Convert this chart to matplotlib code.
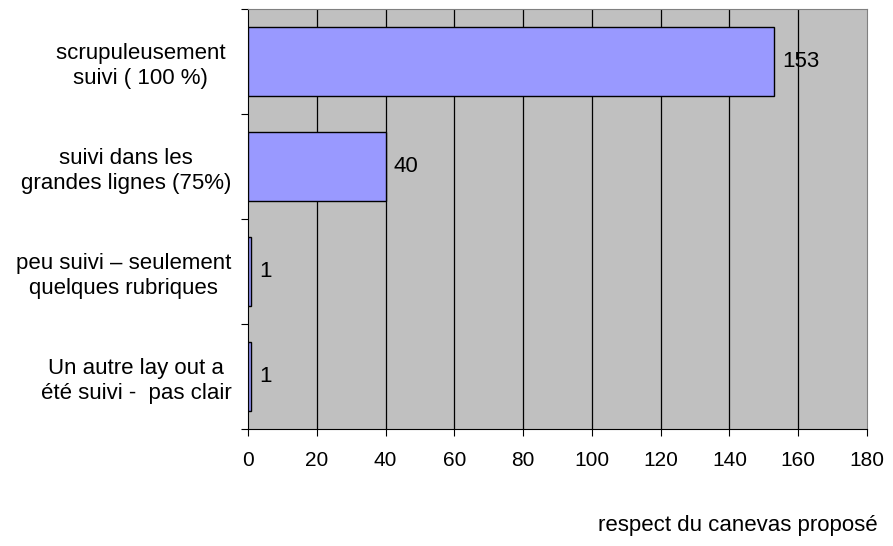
import matplotlib
matplotlib.use("Agg")
from matplotlib import pyplot as plt

plt.rcParams['font.family'] = ['Liberation Sans', 'DejaVu Sans']

# data
categories = ["scrupuleusement \nsuivi ( 100 %) ",
              "suivi dans les\ngrandes lignes (75%)",
              "peu suivi \u2013 seulement\nquelques rubriques",
              "Un autre lay out a\n\u00e9t\u00e9 suivi -  pas clair"]
values = [153, 40, 1, 1]
xticks = [0, 20, 40, 60, 80, 100, 120, 140, 160, 180]
xlabel = "respect du canevas propos\u00e9"

fig = plt.figure(figsize=(8.93, 5.46), dpi=100)
ax = fig.add_axes([248/893, 1-429/546, (867-248)/893, (429-9)/546])
ax.set_facecolor('#C0C0C0')

pos = list(range(len(categories)))
ax.barh(pos, values, height=0.66, color='#9999FF', edgecolor='black', linewidth=1, zorder=3)
for p, v in zip(pos, values):
    ax.text(v + 2.3, p, str(v), va='center', ha='left', fontsize=16, zorder=4)

ax.set_xlim(0, 180)
ax.set_ylim(len(categories) - 0.5, -0.5)
ax.set_xticks(xticks)
ax.set_xticklabels([str(t) for t in xticks], fontsize=15)
ax.tick_params(axis='x', length=5, pad=11, color='black')
for t in xticks[1:-1]:
    ax.axvline(t, color='black', linewidth=0.9, zorder=2)

# category boundary ticks on y, labels at centers
ax.set_yticks([i - 0.5 for i in range(len(categories) + 1)])
ax.set_yticklabels([])
ax.tick_params(axis='y', length=5, color='black')
ax.set_yticks(pos, minor=True)
ax.set_yticklabels(categories, minor=True, fontsize=16, ha='right',
                   multialignment='center', linespacing=1.25)
ax.tick_params(axis='y', which='minor', length=0, pad=12)

for s in ['top', 'right']:
    ax.spines[s].set_color('#808080')
for s in ['left', 'bottom']:
    ax.spines[s].set_color('black')

fig.text(878/893, 1-525/546, xlabel, ha='right', va='center', fontsize=16)

fig.savefig("out.png", dpi=100)
